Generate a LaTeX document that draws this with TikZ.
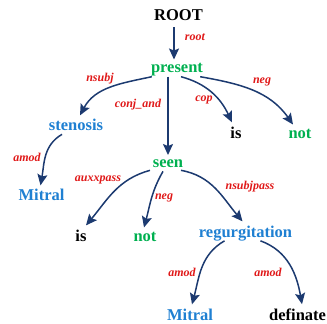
\documentclass[tikz,border=0pt]{standalone}
\usepackage{fontspec}
\setmainfont{Liberation Serif}
\usetikzlibrary{arrows.meta}
\definecolor{wgreen}{HTML}{00B050}
\definecolor{wblue}{HTML}{1F80D2}
\definecolor{wnavy}{HTML}{1C3A70}
\definecolor{wred}{HTML}{E01818}
\tikzset{
  word/.style={inner sep=0pt, anchor=base, font=\fontsize{16.5}{16.5}\selectfont\bfseries},
  rel/.style={inner sep=0pt, text=wred, font=\fontsize{12}{12}\selectfont\bfseries\itshape},
  dep/.style={draw=wnavy, line width=1.5pt, -{Stealth[length=11pt,width=10pt,inset=2pt]}},
}
\begin{document}
\begin{tikzpicture}[x=1pt,y=-1pt]
\useasboundingbox (0,0) rectangle (327,324);
% words
\node[word] (root) at (178.5,20) {ROOT};
\node[word, text=wgreen] (present) at (177,72) {present};
\node[word, text=wblue] (stenosis) at (76,130) {stenosis};
\node[word] (is1) at (236,138) {is};
\node[word, text=wgreen] (not1) at (300,138) {not};
\node[word, text=wgreen] (seen) at (168,167) {seen};
\node[word, text=wblue] (mitral1) at (41.5,200) {Mitral};
\node[word] (is2) at (81,241) {is};
\node[word, text=wgreen] (not2) at (145,241) {not};
\node[word, text=wblue] (regurg) at (245.5,237) {regurgitation};
\node[word, text=wblue] (mitral2) at (190,320) {Mitral};
\node[word, anchor=base west] (definate) at (269,320) {definate};
% relation labels
\node[rel] (lroot) at (195,37) {root};
\node[rel] (lnsubj) at (100,79) {nsubj};
\node[rel] (lconj) at (138,105) {conj\_and};
\node[rel] (lcop) at (204,100) {cop};
\node[rel] (lneg1) at (262,82) {neg};
\node[rel] (lamod1) at (27,157) {amod};
\node[rel] (laux) at (98,180) {auxxpass};
\node[rel] (lneg2) at (164,198) {neg};
\node[rel] (lnsp) at (250,187) {nsubjpass};
\node[rel] (lamod2) at (182,272) {amod};
\node[rel] (lamod3) at (268,272) {amod};
% dependency arcs
\draw[dep] ([xshift=-4.5pt,yshift=-7pt]root.south) -- ([xshift=-3pt,yshift=3pt]present.north);
\draw[dep] ([xshift=1pt,yshift=-1pt]present.south west) to[out=192,in=62] ([xshift=4pt,yshift=3pt]stenosis.north);
\draw[dep] ([xshift=-9pt,yshift=-1pt]present.south) -- ([yshift=4pt]seen.north);
\draw[dep] ([xshift=4pt,yshift=-1pt]present.south) to[out=-15,in=115] ([xshift=-4pt,yshift=4pt]is1.north);
\draw[dep] ([xshift=-3pt,yshift=-1pt]present.south east) to[out=-10,in=125] ([xshift=-7pt,yshift=4pt]not1.north);
\draw[dep] ([xshift=-14pt,yshift=-4pt]stenosis.south) to[out=210,in=80] ([xshift=-1pt,yshift=3pt]mitral1.north);
\draw[dep] ([xshift=-18pt,yshift=-3pt]seen.south) to[out=195,in=50] ([xshift=5pt,yshift=4pt]is2.north);
\draw[dep] ([xshift=-5pt,yshift=-4pt]seen.south) to[out=240,in=75] ([xshift=-1pt,yshift=4pt]not2.north);
\draw[dep] ([xshift=13pt,yshift=-3pt]seen.south) to[out=-10,in=130] ([xshift=-3pt,yshift=4pt]regurg.north);
\draw[dep] ([xshift=-21pt,yshift=0pt]regurg.south) to[out=210,in=75] ([xshift=2pt,yshift=4pt]mitral2.north);
\draw[dep] ([xshift=15pt,yshift=0pt]regurg.south) to[out=-20,in=100] ([xshift=33pt,yshift=4pt]definate.north west);
\end{tikzpicture}
\end{document}
